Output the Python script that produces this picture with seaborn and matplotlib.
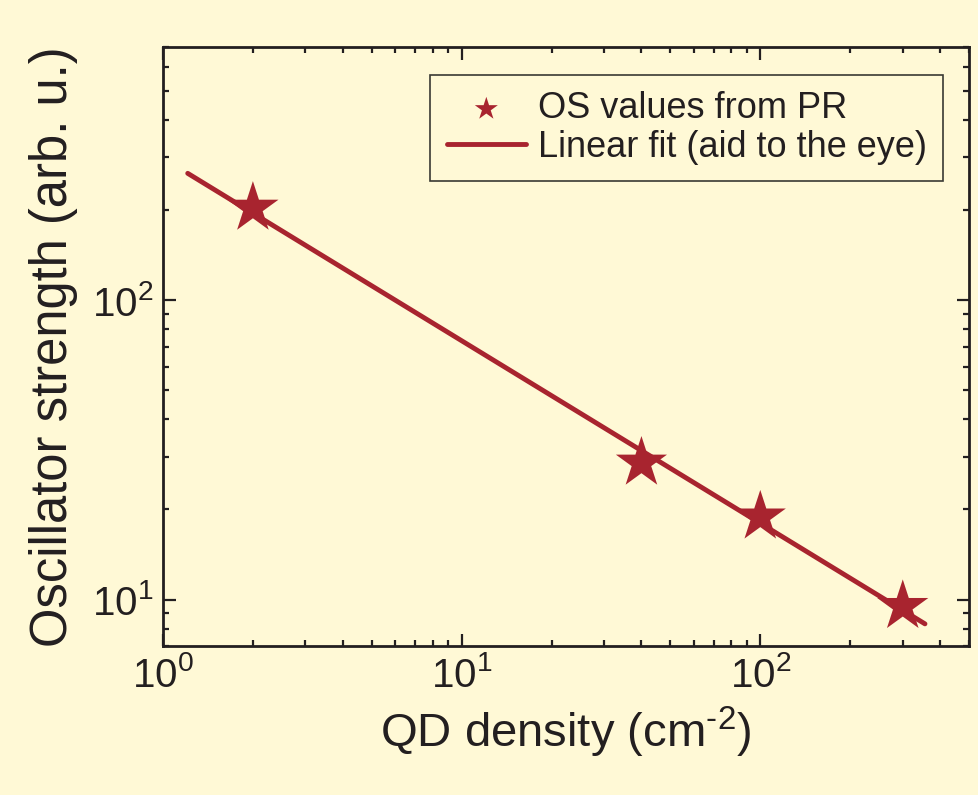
import numpy as np
import pandas as pd
import seaborn as sns
import matplotlib.pyplot as plt

# data
qd_density = [2, 40, 100, 300]
osc_strength = [203, 28.6, 18.9, 9.5]

# end points of the guide line (linear fit in log-log)
fit_density = [1.21, 356]
fit_strength = [265, 8.3]

bg = "#FFF9D6"
red = "#A8242F"
ink = "#231F20"

sns.set_theme(style="ticks")
plt.rcParams["font.family"] = ["Liberation Sans", "DejaVu Sans"]
plt.rcParams["mathtext.fontset"] = "custom"
plt.rcParams["mathtext.rm"] = "Liberation Sans"
plt.rcParams["mathtext.it"] = "Liberation Sans"
plt.rcParams["mathtext.default"] = "regular"

points = pd.DataFrame({"density": qd_density, "strength": osc_strength})
fit = pd.DataFrame({"density": fit_density, "strength": fit_strength})

fig = plt.figure(figsize=(9.79, 7.95), dpi=100, facecolor=bg)
ax = fig.add_axes([0.1665, 0.1874, 0.8233, 0.7535])
ax.set_facecolor(bg)

sns.lineplot(data=fit, x="density", y="strength", ax=ax, color=red,
             linewidth=3.5, label="Linear fit (aid to the eye)", zorder=2)
sns.scatterplot(data=points, x="density", y="strength", ax=ax, marker="*",
                s=1500, color=red, edgecolor="none", linewidth=0,
                label="OS values from PR", zorder=3)

ax.set_xscale("log")
ax.set_yscale("log")
ax.set_xlim(1, 500)
ax.set_ylim(7, 700)

ax.set_xlabel(r"QD density (cm$^{\text{-}2}$)", fontsize=34, color=ink, labelpad=7)
ax.set_ylabel("Oscillator strength (arb. u.)", fontsize=36.5, color=ink, labelpad=10)

for side in ["top", "right", "bottom", "left"]:
    ax.spines[side].set_visible(True)
    ax.spines[side].set_linewidth(2)
    ax.spines[side].set_color(ink)

ax.tick_params(which="both", direction="in", top=True, right=True, color=ink, width=1.6)
ax.tick_params(which="major", length=9, labelsize=29, labelcolor=ink, pad=7)
ax.tick_params(which="minor", length=4.5)

handles, labels = ax.get_legend_handles_labels()
leg = ax.legend(handles[::-1], labels[::-1], loc="upper right",
                bbox_to_anchor=(0.968, 0.953), borderaxespad=0, fontsize=26,
                markerscale=0.45, handlelength=2.2, handletextpad=0.33,
                labelspacing=0.1, borderpad=0.45, fancybox=False, frameon=True)
leg.get_frame().set_facecolor(bg)
leg.get_frame().set_edgecolor("#3a3a33")
leg.get_frame().set_linewidth(1.2)
leg.get_frame().set_alpha(1)
for t in leg.get_texts():
    t.set_color(ink)

fig.savefig("out.png", dpi=100, facecolor=bg)
